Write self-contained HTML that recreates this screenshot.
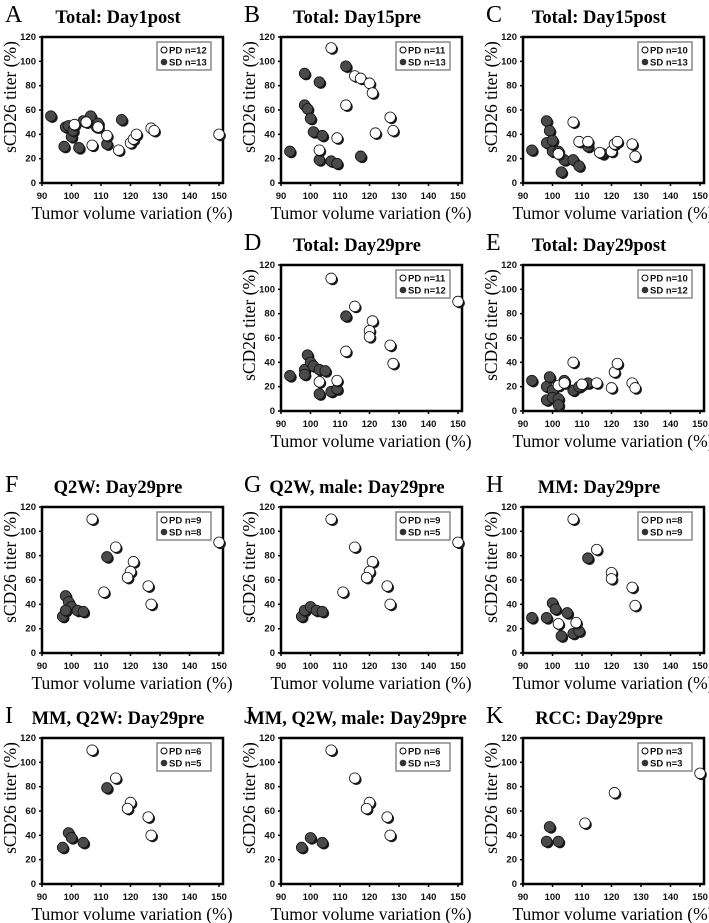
<!DOCTYPE html>
<html><head><meta charset="utf-8"><style>
html,body{margin:0;padding:0;background:#fff;}
svg{display:block;}
.tk{font-family:"Liberation Sans",Arial,sans-serif;font-weight:bold;font-size:9.5px;fill:#111;}
.ttl{font-family:"Liberation Serif",serif;font-weight:bold;font-size:18.5px;fill:#000;}
.ax{font-family:"Liberation Serif",serif;font-size:17.5px;fill:#000;}
.let{font-family:"Liberation Serif",serif;font-size:24px;fill:#000;}
.lg{font-family:"Liberation Sans",Arial,sans-serif;font-weight:bold;font-size:9.5px;fill:#111;}
</style></head><body>
<svg id="fig" width="709" height="923" xmlns="http://www.w3.org/2000/svg"></svg>
<script>
const xTicks=[90,100,110,120,130,140,150];
const yTicks=[0,20,40,60,80,100,120];
const panelLetters=["A","B","C","D","E","F","G","H","I","J","K"];
const panelTitles=["Total: Day1post","Total: Day15pre","Total: Day15post","Total: Day29pre","Total: Day29post","Q2W: Day29pre","Q2W, male: Day29pre","MM: Day29pre","MM, Q2W: Day29pre","MM, Q2W, male: Day29pre","RCC: Day29pre"];
const legendPD=["PD n=12","PD n=11","PD n=10","PD n=11","PD n=10","PD n=9","PD n=9","PD n=8","PD n=6","PD n=6","PD n=3"];
const legendSD=["SD n=13","SD n=13","SD n=13","SD n=12","SD n=12","SD n=8","SD n=5","SD n=9","SD n=5","SD n=3","SD n=3"];
// PD series (x: tumor volume variation %, y: sCD26 titer %)
const pdX=[
[101,105,107,109,112,116,120,121,122,127,128,150],
[107,115,117,120,121,112,127,128,122,109,103],
[107,109,112,116,120,121,122,127,128,102],
[107,115,121,120,120,112,127,128,109,103,150],
[102,104,107,110,115,120,121,122,127,128],
[107,115,121,120,119,111,126,127,150],
[107,115,121,120,119,111,126,127,150],
[107,115,120,120,127,128,102,108],
[107,115,120,119,126,127],
[107,115,120,119,126,127],
[111,121,150]];
const pdY=[
[48,50,31,46,39,27,33,36,40,45,43,40],
[111,88,86,82,74,64,54,43,41,37,27],
[50,34,34,25,26,32,34,32,22,24],
[109,86,74,66,61,49,54,39,25,24,90],
[21,23,40,22,23,19,32,39,23,19],
[110,87,75,67,62,50,55,40,91],
[110,87,75,67,62,50,55,40,91],
[110,85,66,61,54,39,24,25],
[110,87,67,62,55,40],
[110,87,67,62,55,40],
[50,75,91]];
// SD series
const sdX=[
[93,97.5,98,99,100,100.5,102.5,104,106.5,108.5,109,112,117],
[93,98,103,98,99,100,101,104,103,107,109,117,112],
[93,98,98,99,100,100,102,103,104,107,109,112,117],
[93,98,98,99,100,101,103,105,103,107,109,112],
[93,98,98,99,100,100,102,102,104,107,109,112],
[112,98,99,100,97,98,102,104],
[97,98,100,102,104],
[93,98,100,101,105,103,107,109,112],
[112,99,100,97,104],
[97,100,104],
[99,98,102]];
const sdY=[
[55,30,46,47,38,43,29,51,55,46,49,32,52],
[26,90,83,64,61,53,42,39,19,18,16,22,96],
[27,51,33,43,35,26,26,9,19,19,14,30,24],
[29,34,30,46,40,37,34,33,14,16,18,78],
[25,9,20,28,17,11,10,5,25,17,20,23],
[79,47,42,38,30,35,35,34],
[30,35,38,35,34],
[29,29,41,36,33,14,16,18,78],
[79,42,38,30,34],
[30,38,34],
[47,35,35]];
const colX=[42,281,523];
const rowY=[183,411,653,884];
const layout=[[0,0],[1,0],[2,0],[1,1],[2,1],[0,2],[1,2],[2,2],[0,3],[1,3],[2,3]];
const NS="http://www.w3.org/2000/svg";
const svg=document.getElementById('fig');
function mk(tag,attrs,parent,text){const e=document.createElementNS(NS,tag);for(const k in attrs)e.setAttribute(k,attrs[k]);if(text!==undefined)e.textContent=text;(parent||svg).appendChild(e);return e;}
const PXX=177/60, PXY=146/120;
layout.forEach(([c,r],i)=>{
  const x0=colX[c], y0=rowY[r];
  const sx=v=>x0+(v-90)*PXX;
  const sy=v=>y0-v*PXY;
  const g=mk('g',{});
  
  
  const top=sy(120);
  const let_=mk('text',{x:x0-37,y:top-15,class:'let'},g,panelLetters[i]);
  
  
  const t=mk('text',{x:x0+76,y:top-14,class:'ttl','text-anchor':'middle'},g,panelTitles[i]);
  
  
  const box=mk('rect',{x:x0,y:top,width:181,height:y0-top,fill:'#fff',stroke:'#000','stroke-width':2.5},g);
  
  
  xTicks.forEach(v=>{
    mk('line',{x1:sx(v),x2:sx(v),y1:y0,y2:y0+3,stroke:'#000','stroke-width':1.5},g);
    const l=mk('text',{x:sx(v),y:y0+16,class:'tk','text-anchor':'middle'},g,v);
    
    
  });
  yTicks.forEach(v=>{
    mk('line',{x1:x0-3,x2:x0,y1:sy(v),y2:sy(v),stroke:'#000','stroke-width':1.5},g);
    const l=mk('text',{x:x0-6,y:sy(v)+3,class:'tk','text-anchor':'end'},g,v);
    
    
  });
  const xt=mk('text',{x:x0+90,y:y0+36,class:'ax','text-anchor':'middle'},g,'Tumor volume variation (%)');
  
  
  const ycx=x0-32, ycy=y0-86;
  const yt=mk('text',{x:ycx,y:ycy+6,class:'ax','text-anchor':'middle',transform:`rotate(-90 ${ycx} ${ycy})`},g,'sCD26 titer (%)');
  
  
  const lg=mk('g',{},g);
  
  
  mk('rect',{x:x0+115,y:top+5,width:54,height:28,fill:'#fff',stroke:'#888','stroke-width':1.5},lg);
  mk('circle',{cx:x0+122,cy:top+13,r:3,fill:'#fff',stroke:'#000','stroke-width':1},lg);
  mk('text',{x:x0+127,y:top+16.5,class:'lg'},lg,legendPD[i]);
  mk('circle',{cx:x0+122,cy:top+25,r:3.3,fill:'#333'},lg);
  mk('text',{x:x0+127,y:top+28.5,class:'lg'},lg,legendSD[i]);
  function pt(xv,yv,pd){
    const cx=sx(xv), cy=sy(yv);
    const p=mk('g',{},g);
    
    
    mk('circle',{cx:cx+1.6,cy:cy+1.6,r:5.3,fill:'#1a1a1a'},p);
    mk('circle',{cx:cx,cy:cy,r:5.3,fill:pd?'#fff':'#4a4a4a',stroke:'#111','stroke-width':0.8},p);
  }
  sdX[i].forEach((v,k)=>pt(v,sdY[i][k],false));
  pdX[i].forEach((v,k)=>pt(v,pdY[i][k],true));
});
</script>
</body></html>
